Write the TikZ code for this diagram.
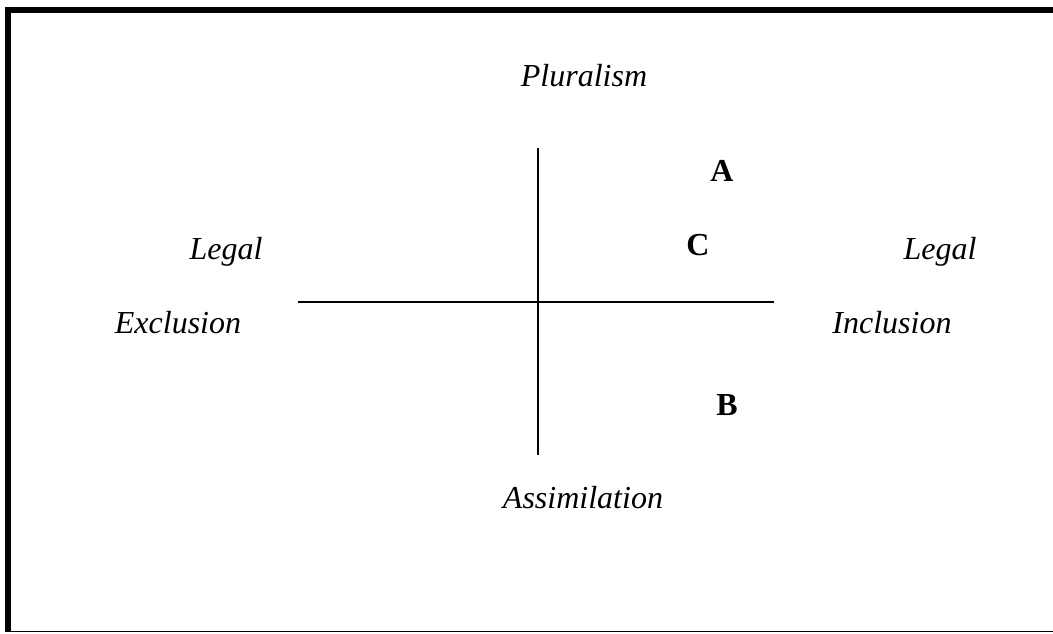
\documentclass[tikz,border=0pt]{standalone}
\usepackage{fontspec}
\setmainfont{Liberation Serif}
\usetikzlibrary{positioning}

\begin{document}
\begin{tikzpicture}[
    x=0.375pt, y=-0.375pt,
    every node/.style={font=\fontsize{12}{14}\selectfont, inner sep=0pt, anchor=base},
    axislabel/.style={font=\fontsize{12}{14}\selectfont\itshape},
    pointlabel/.style={font=\fontsize{12}{14}\selectfont\bfseries},
    axis/.style={line width=0.75pt},
    frame/.style={line width=2.1pt}
]
\useasboundingbox (0,0) rectangle (1053,633);

% frame
\coordinate (topR) at (1053,9.7);
\coordinate (topL) at (8,9.7);
\coordinate (botL) at (8,631.8);
\coordinate (botR) at (1053,631.8);
\draw[frame] (topR) -- (topL);
\draw[frame] ([yshift=1.05pt]topL) -- (botL);
\draw[line width=0.45pt] (botL) -- (botR);

% axes
\coordinate (vTop) at (538,148);
\coordinate (vBot) at (538,455);
\coordinate (hLeft) at (298,302);
\coordinate (hRight) at (774,302);
\draw[axis] (vTop) -- (vBot);
\draw[axis] (hLeft) -- (hRight);

% axis labels
\node[axislabel] (plural) at (584,86) {Pluralism};
\node[axislabel] (assim) at (583,508) {Assimilation};
\node[axislabel] (legalL) at (226,259) {Legal};
\node[axislabel] (excl) at (178,333) {Exclusion};
\node[axislabel] (legalR) at (940,259) {Legal};
\node[axislabel] (incl) at (892,333) {Inclusion};

% points
\node[pointlabel] (ptA) at (722,181) {A};
\node[pointlabel] (ptC) at (698,255) {C};
\node[pointlabel] (ptB) at (727,415) {B};
\end{tikzpicture}
\end{document}
